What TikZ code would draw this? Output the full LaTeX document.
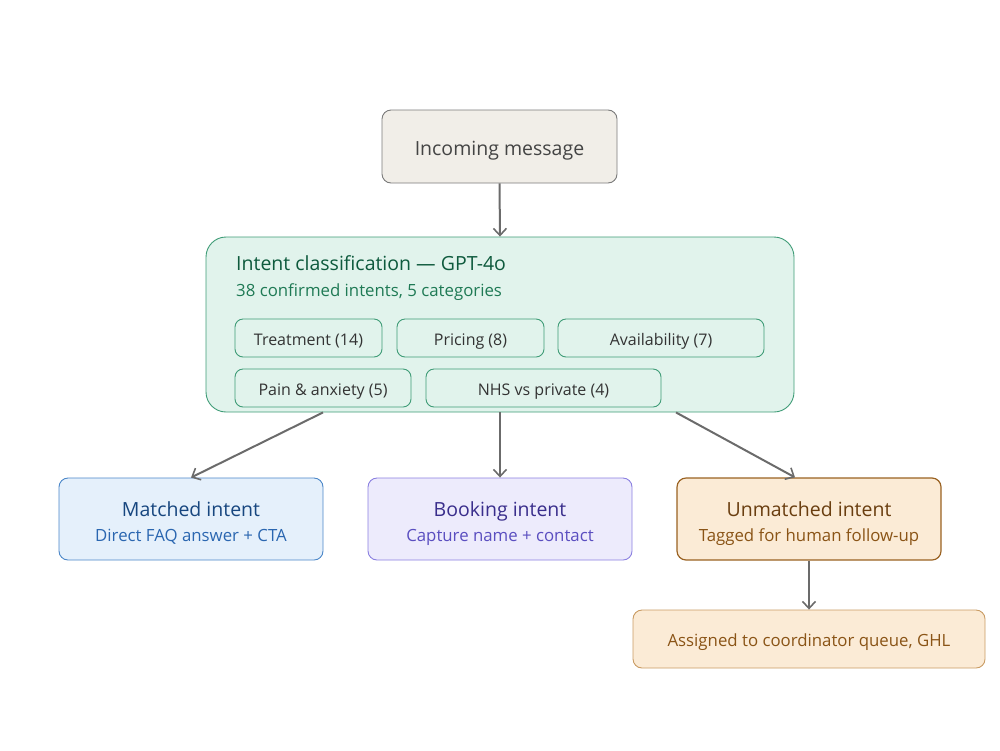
\documentclass[tikz,border=0pt]{standalone}
\usepackage{fontspec}
\setmainfont{Open Sans}
\usetikzlibrary{arrows.meta,calc}
\definecolor{arrowc}{HTML}{6B6B6B}
\definecolor{inFill}{HTML}{F1EEE8}
\definecolor{inDraw}{HTML}{7A7A7A}
\definecolor{inText}{HTML}{444444}
\definecolor{gFill}{HTML}{E1F3EC}
\definecolor{gDraw}{HTML}{3F9C77}
\definecolor{gTitle}{HTML}{0E5A3D}
\definecolor{gSub}{HTML}{1F7A55}
\definecolor{chipText}{HTML}{333333}
\definecolor{bFill}{HTML}{E5F0FB}
\definecolor{bDraw}{HTML}{4A86C8}
\definecolor{bTitle}{HTML}{17467F}
\definecolor{bSub}{HTML}{2A66B0}
\definecolor{pFill}{HTML}{EDEBFC}
\definecolor{pDraw}{HTML}{8A7FE0}
\definecolor{pTitle}{HTML}{3A2E8C}
\definecolor{pSub}{HTML}{5A4EC0}
\definecolor{oFill}{HTML}{FBEBD6}
\definecolor{oDraw}{HTML}{9A6222}
\definecolor{oDrawL}{HTML}{C99B62}
\definecolor{oTitle}{HTML}{6A3E10}
\definecolor{oSub}{HTML}{8A5416}
\tikzset{
  box/.style={rounded corners=9pt, line width=0.9pt, inner sep=0pt, align=center},
  chip/.style={rounded corners=8pt, draw=gDraw, fill=gFill, line width=0.9pt, inner sep=0pt,
    minimum height=38pt, text=chipText, font=\fontsize{16}{19}\selectfont,
    text height=16pt, text depth=2pt},
  conn/.style={draw=arrowc, line width=2pt, -{Straight Barb[length=7pt,width=13pt,line width=1.6pt]}},
  ttl/.style={font=\fontsize{19.5}{23}\selectfont},
  sub/.style={font=\fontsize{16.8}{20}\selectfont},
}
\begin{document}
\begin{tikzpicture}[x=1pt,y=-1pt]
\useasboundingbox (0,0) rectangle (1000,750);
% incoming
\node[box, draw=inDraw, fill=inFill, minimum width=235pt, minimum height=73pt, text=inText, ttl, text height=20pt, text depth=2pt] (inc) at (499.5,146.5) {Incoming message};
% big box
\node[draw=gDraw, fill=gFill, rounded corners=20pt, line width=0.9pt, minimum width=588pt, minimum height=175pt, inner sep=0pt] (big) at (500,324.5) {};
\node[anchor=base west, text=gTitle, ttl, inner sep=0pt] (bigT) at (236,270) {Intent classification — GPT-4o};
\node[anchor=base west, text=gSub, sub, inner sep=0pt] (bigS) at (236,296) {38 confirmed intents, 5 categories};
\node[chip, minimum width=147pt] (c1) at (308.5,338) {Treatment (14)};
\node[chip, minimum width=147pt] (c2) at (470.5,338) {Pricing (8)};
\node[chip, minimum width=206pt] (c3) at (661,338) {Availability (7)};
\node[chip, minimum width=176pt] (c4) at (323,388) {Pain \& anxiety (5)};
\node[chip, minimum width=235pt] (c5) at (543.5,388) {NHS vs private (4)};
% outcome boxes
\node[box, draw=bDraw, fill=bFill, minimum width=264pt, minimum height=82pt] (match) at (191,519) {};
\node[anchor=base, text=bTitle, ttl, inner sep=0pt] (matchT) at (191,516) {Matched intent};
\node[anchor=base, text=bSub, sub, inner sep=0pt] (matchS) at (191,541) {Direct FAQ answer + CTA};
\node[box, draw=pDraw, fill=pFill, minimum width=264pt, minimum height=82pt] (book) at (500,519) {};
\node[anchor=base, text=pTitle, ttl, inner sep=0pt] (bookT) at (500,516) {Booking intent};
\node[anchor=base, text=pSub, sub, inner sep=0pt] (bookS) at (500,541) {Capture name + contact};
\node[box, draw=oDraw, fill=oFill, minimum width=264pt, minimum height=82pt, line width=1.2pt] (unm) at (809,519) {};
\node[anchor=base, text=oTitle, ttl, inner sep=0pt] (unmT) at (809,516) {Unmatched intent};
\node[anchor=base, text=oSub, sub, inner sep=0pt] (unmS) at (809,541) {Tagged for human follow-up};
\node[box, draw=oDrawL, fill=oFill, minimum width=352pt, minimum height=58pt, text=oSub, sub, text height=16pt, text depth=2pt] (asg) at (809,639) {Assigned to coordinator queue, GHL};
% connectors
\draw[conn] (inc.south) -- (big.north);
\draw[conn] ([xshift=-177pt]big.south) -- (match.north);
\draw[conn] (big.south) -- (book.north);
\draw[conn] ([xshift=176pt]big.south) -- ([xshift=-14pt]unm.north);
\draw[conn] (unm.south) -- (asg.north);
\end{tikzpicture}
\end{document}
